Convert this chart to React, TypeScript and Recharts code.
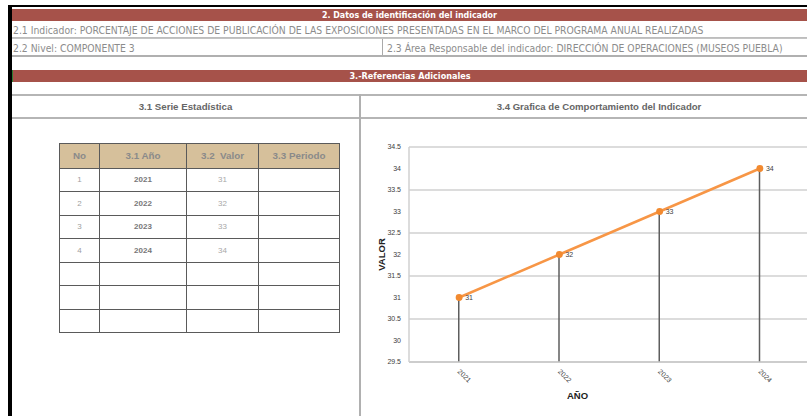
import React from 'react';
import { ComposedChart, Line, Bar, XAxis, YAxis, CartesianGrid, LabelList } from 'recharts';

const years = ['2021', '2022', '2023', '2024'];
const values = [31, 32, 33, 34];
const rowNumbers = [1, 2, 3, 4];
const yTicks = [29.5, 30, 30.5, 31, 31.5, 32, 32.5, 33, 33.5, 34, 34.5];
const emptyRows = 3;

const chartData = years.map((y, i) => ({ year: y, valor: values[i] }));

const NARROW = '"Liberation Sans Narrow", "DejaVu Sans Condensed", "Liberation Sans", Arial, sans-serif';
const SANS = '"Liberation Sans", Arial, sans-serif';
const RED = '#a6524a';

const XTick = (props: any) => {
  const { x, y, payload } = props;
  return (
    <text x={x - 2} y={y + 2} transform={`rotate(45 ${x - 2} ${y + 2})`} fontSize={7} fill="#404040" fontFamily={SANS} textAnchor="start">
      {payload.value}
    </text>
  );
};

const abs = (l: number, t: number, w: number, h: number, extra: React.CSSProperties = {}): React.CSSProperties => ({
  position: 'absolute', left: l, top: t, width: w, height: h, boxSizing: 'border-box', ...extra,
});

export default function App() {
  const cell: React.CSSProperties = { border: '1px solid #5a5a5a', height: 22.5, padding: 0, textAlign: 'center', fontSize: 8, fontFamily: SANS };
  const hcell: React.CSSProperties = { ...cell, height: 23.5, background: '#d6c09b', color: '#8a8a8a', fontWeight: 'bold', fontSize: 9.8, border: '1.5px solid #5a5a5a', whiteSpace: 'nowrap' };
  return (
    <div style={abs(0, 0, 807, 416, { background: '#fff', overflow: 'hidden', fontFamily: NARROW })}>
      {/* borders */}
      <div style={abs(8, 5, 799, 2, { background: '#000' })} />
      <div style={abs(8, 5, 4, 411, { background: '#000' })} />
      {/* band 1 */}
      <div style={abs(12, 9, 795, 12, { background: RED, color: '#fff', fontWeight: 'bold', fontSize: 8.8, lineHeight: '12px', textAlign: 'center' })}>
        2. Datos de identificación del indicador
      </div>
      <div style={abs(12, 21, 795, 17, { borderBottom: '1px solid #bdbdbd', color: '#8c8c8c', fontSize: 10.3, lineHeight: '19px', paddingLeft: 1, whiteSpace: 'nowrap' })}>
        2.1 Indicador: PORCENTAJE DE ACCIONES DE PUBLICACIÓN DE LAS EXPOSICIONES PRESENTADAS EN EL MARCO DEL PROGRAMA ANUAL REALIZADAS
      </div>
      <div style={abs(12, 38, 795, 19, { borderTop: '1px solid #c4c4c4', borderBottom: '2px solid #b0b0b0', color: '#8c8c8c', fontSize: 10.3, lineHeight: '19px', whiteSpace: 'nowrap' })}>
        <span style={{ position: 'absolute', left: 1, top: 0 }}>2.2 Nivel: COMPONENTE 3</span>
        <div style={abs(370, 0, 1, 16, { background: '#aaa' })} />
        <span style={{ position: 'absolute', left: 375, top: 0 }}>2.3 Área Responsable del indicador: DIRECCIÓN DE OPERACIONES (MUSEOS PUEBLA)</span>
      </div>
      {/* band 2 */}
      <div style={abs(12, 70, 795, 12, { background: RED, color: '#fff', fontWeight: 'bold', fontSize: 9, lineHeight: '12px', textAlign: 'center', borderLeft: '1px solid #2e7d32' })}>
        3.-Referencias Adicionales
      </div>
      <div style={abs(12, 94, 795, 2, { background: '#b5b5b5' })} />
      <div style={abs(12, 117, 795, 2, { background: '#b5b5b5' })} />
      <div style={abs(359, 94, 2, 322, { background: '#b0b0b0' })} />
      <div style={abs(12, 96, 347, 21, { color: '#666', fontWeight: 'bold', fontSize: 9.7, lineHeight: '21px', textAlign: 'center', fontFamily: SANS })}>
        3.1 Serie Estadística
      </div>
      <div style={abs(361, 96, 476, 21, { color: '#666', fontWeight: 'bold', fontSize: 9.6, lineHeight: '21px', textAlign: 'center', fontFamily: SANS, whiteSpace: 'nowrap' })}>
        3.4 Grafica de Comportamiento del Indicador
      </div>
      {/* table */}
      <table style={{ position: 'absolute', left: 59, top: 143, width: 280, borderCollapse: 'collapse', tableLayout: 'fixed' }}>
        <colgroup>
          <col style={{ width: 40 }} />
          <col style={{ width: 87 }} />
          <col style={{ width: 72 }} />
          <col style={{ width: 81 }} />
        </colgroup>
        <thead>
          <tr>
            <th style={hcell}>No</th>
            <th style={hcell}>3.1 Año</th>
            <th style={hcell}>3.2&nbsp; Valor</th>
            <th style={hcell}>3.3 Periodo</th>
          </tr>
        </thead>
        <tbody>
          {rowNumbers.map((n, i) => (
            <tr key={n}>
              <td style={{ ...cell, color: '#a0a0a0' }}>{n}</td>
              <td style={{ ...cell, color: '#777', fontWeight: 'bold' }}>{years[i]}</td>
              <td style={{ ...cell, color: '#a8a8a8' }}>{values[i]}</td>
              <td style={cell}></td>
            </tr>
          ))}
          {Array.from({ length: emptyRows }).map((_, i) => (
            <tr key={'e' + i}>
              <td style={cell}></td><td style={cell}></td><td style={cell}></td><td style={cell}></td>
            </tr>
          ))}
        </tbody>
      </table>
      {/* chart */}
      <div style={abs(360, 130, 450, 286)}>
        <ComposedChart width={450} height={286} data={chartData} margin={{ top: 17, right: 0, bottom: 0, left: 0 }} barCategoryGap={0}>
          <CartesianGrid vertical={false} stroke="#d0d0d0" strokeWidth={1.5} />
          <XAxis dataKey="year" height={54} tick={<XTick />} tickLine={false} axisLine={{ stroke: '#c8c8c8', strokeWidth: 1.5 }} interval={0}
            label={{ value: 'AÑO', position: 'insideBottom', offset: 17, dx: -32, fontSize: 9.5, fontWeight: 'bold', fill: '#222', fontFamily: SANS }} />
          <YAxis width={49} domain={[29.5, 34.5]} ticks={yTicks} type="number" tickLine={false} axisLine={{ stroke: '#d0d0d0', strokeWidth: 1.5 }}
            tick={{ fontSize: 7, fill: '#404040', fontFamily: SANS }}
            label={{ value: 'VALOR', angle: -90, position: 'center', dx: -3, fontSize: 9.5, fontWeight: 'bold', fill: '#222', fontFamily: SANS }} />
          <Bar dataKey="valor" barSize={1.5} fill="#5e5e5e" isAnimationActive={false} />
          <Line dataKey="valor" stroke="#f79646" strokeWidth={2.5} dot={{ r: 2.2, fill: '#f28a30', stroke: '#f28a30' }} isAnimationActive={false}>
            <LabelList dataKey="valor" position="right" offset={6} fontSize={7} fill="#404040" fontFamily={SANS} />
          </Line>
        </ComposedChart>
      </div>
    </div>
  );
}
